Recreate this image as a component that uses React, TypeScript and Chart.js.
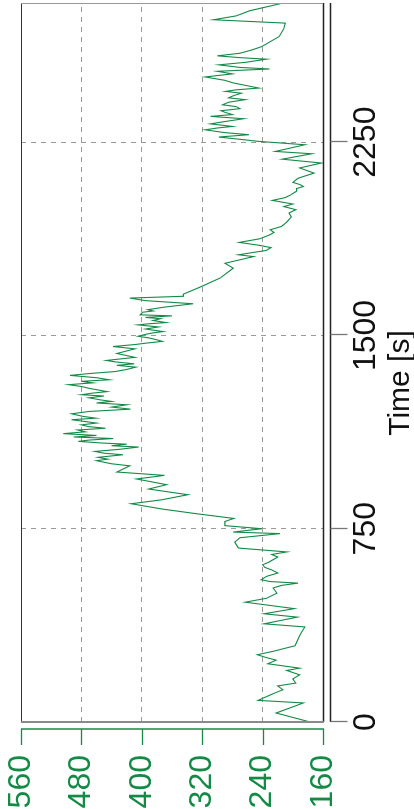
import React, { useEffect, useRef } from 'react';
import { Chart, registerables } from 'chart.js';

Chart.register(...registerables);

// ---- data (time in seconds, value on the green axis) ----
const TIME: number[] = [
  0, 35, 74, 84, 110, 125, 140, 151, 167, 183,
  200, 209, 226, 240, 250, 261, 275, 296, 340, 369,
  381, 407, 420, 440, 465, 480, 500, 520, 530, 539,
  545, 552, 565, 578, 590, 600, 610, 620, 640, 650,
  660, 675, 698, 715, 731, 737, 750, 762, 778, 790,
  808, 826, 847, 862, 882, 904, 921, 943, 957, 970,
  994, 1002, 1014, 1020, 1027, 1037, 1043, 1050, 1058, 1067,
  1072, 1078, 1083, 1089, 1094, 1100, 1106, 1112, 1119, 1126,
  1133, 1140, 1146, 1153, 1160, 1166, 1173, 1179, 1186, 1196,
  1205, 1214, 1222, 1231, 1238, 1244, 1250, 1258, 1265, 1270,
  1276, 1282, 1295, 1302, 1309, 1316, 1322, 1328, 1336, 1345,
  1352, 1360, 1368, 1377, 1384, 1390, 1397, 1403, 1415, 1430,
  1448, 1457, 1465, 1470, 1477, 1483, 1490, 1497, 1505, 1510,
  1515, 1525, 1533, 1541, 1545, 1550, 1558, 1565, 1570, 1576,
  1580, 1590, 1595, 1600, 1610, 1623, 1635, 1645, 1652, 1660,
  1690, 1723, 1761, 1780, 1806, 1813, 1830, 1841, 1850, 1861,
  1875, 1891, 1900, 1910, 1923, 1940, 1960, 1975, 1988, 2000,
  2010, 2024, 2035, 2045, 2060, 2070, 2078, 2085, 2094, 2110,
  2130, 2150, 2169, 2184, 2205, 2214, 2240, 2253, 2270, 2279,
  2287, 2298, 2305, 2311, 2321, 2330, 2341, 2350, 2357, 2365,
  2372, 2380, 2388, 2395, 2405, 2415, 2422, 2430, 2440, 2447,
  2453, 2460, 2470, 2480, 2490, 2503, 2515, 2525, 2534, 2540,
  2550, 2560, 2572, 2578, 2585, 2595, 2608, 2621, 2660, 2690,
  2712, 2725, 2740, 2760, 2787,
];
const VALUE: number[] = [
  177, 222, 186, 246, 226, 213, 220, 196, 200, 191,
  208, 191, 233, 222, 235, 247, 225, 197, 190, 184,
  238, 194, 238, 198, 263, 235, 221, 226, 215, 193,
  230, 242, 235, 220, 228, 237, 240, 232, 220, 228,
  208, 272, 277, 270, 217, 279, 241, 290, 290, 278,
  327, 372, 414, 374, 339, 391, 367, 407, 370, 433,
  416, 440, 460, 445, 458, 425, 450, 462, 430, 404,
  440, 420, 455, 484, 470, 438, 490, 460, 504, 475,
  485, 448, 470, 480, 460, 475, 493, 461, 478, 493,
  470, 415, 440, 420, 460, 440, 455, 470, 450, 480,
  466, 446, 470, 480, 497, 465, 480, 443, 460, 495,
  470, 435, 420, 408, 433, 410, 434, 447, 409, 433,
  409, 438, 408, 395, 373, 380, 390, 405, 394, 385,
  372, 395, 378, 405, 392, 368, 385, 375, 395, 360,
  402, 399, 385, 392, 370, 332, 395, 416, 345, 345,
  321, 296, 279, 290, 252, 272, 235, 229, 245, 271,
  244, 230, 225, 230, 215, 208, 202, 205, 196, 212,
  200, 227, 210, 203, 195, 195, 186, 190, 200, 193,
  172, 191, 162, 214, 175, 223, 184, 245, 298, 258,
  290, 316, 300, 280, 309, 290, 265, 309, 280, 289,
  295, 270, 275, 293, 285, 263, 285, 279, 268, 289,
  275, 245, 262, 279, 290, 316, 280, 300, 231, 270,
  298, 262, 235, 270, 300, 270, 254, 241, 218, 212,
  210, 305, 275, 257, 217,
];
const TIME_TICKS: number[] = [0, 750, 1500, 2250];
const VALUE_TICKS: number[] = [160, 240, 320, 400, 480, 560];
const TIME_MIN = 0;
const TIME_MAX = 2790;
const VALUE_MIN = 160;
const VALUE_MAX = 560;
const TIME_TITLE = 'Time [s]';

// ---- styling ----
const W = 809;
const H = 414;
const GREEN = '#148a47';
const FONT = '"Liberation Sans Narrow", "Arial Narrow", "Liberation Sans", Arial, sans-serif';

const offsetAxes = {
  id: 'offsetAxes',
  afterDraw(chart: any) {
    const { ctx, chartArea: a, scales } = chart;
    const xs = scales.x;
    const ys = scales.y;
    ctx.save();
    const seg = (x1: number, y1: number, x2: number, y2: number, color: string, w: number) => {
      ctx.beginPath();
      ctx.strokeStyle = color;
      ctx.lineWidth = w;
      ctx.moveTo(x1, y1);
      ctx.lineTo(x2, y2);
      ctx.stroke();
    };
    // plot box
    seg(a.left, a.top + 0.5, a.right, a.top + 0.5, '#333', 1.2);
    seg(a.left, a.bottom + 0.5, a.right, a.bottom + 0.5, '#222', 1.5);
    seg(a.left, a.top, a.left, a.bottom + 1, '#8a8a8a', 2);
    seg(a.right - 0.5, a.top, a.right - 0.5, a.bottom, '#9a9a9a', 1);

    // green value axis, offset to the left
    const vx = a.left - 7;
    seg(vx, a.top, vx, a.bottom + 1, GREEN, 1.5);
    ys.ticks.forEach((t: any) => {
      const py = Math.round(ys.getPixelForValue(t.value)) + 0.5;
      seg(vx, py, vx - 16, py, GREEN, 1.3);
    });

    // black time axis, offset below
    const ty = a.bottom + 7.5;
    seg(a.left, ty, a.right, ty, '#222', 1.5);
    xs.ticks.forEach((t: any) => {
      const px = Math.round(xs.getPixelForValue(t.value)) + 0.5;
      seg(px, ty, px, ty + 17, '#777', 1.3);
    });

    // time axis title
    ctx.fillStyle = '#111';
    ctx.font = `30px ${FONT}`;
    ctx.textAlign = 'center';
    ctx.textBaseline = 'alphabetic';
    ctx.fillText(TIME_TITLE, 426, 409);
    ctx.restore();
  },
};

export default function App() {
  const ref = useRef<HTMLCanvasElement | null>(null);

  useEffect(() => {
    if (!ref.current) return;
    const points = TIME.map((t, i) => ({ x: t, y: VALUE[i] }));
    const chart = new Chart(ref.current, {
      type: 'line',
      data: {
        datasets: [
          {
            data: points,
            borderColor: GREEN,
            borderWidth: 1.1,
            pointRadius: 0,
            tension: 0,
            fill: false,
          },
        ],
      },
      options: {
        animation: false,
        responsive: false,
        maintainAspectRatio: false,
        layout: { padding: { top: 21, right: 3, left: 0, bottom: 0 } },
        plugins: { legend: { display: false }, tooltip: { enabled: false }, title: { display: false } },
        scales: {
          x: {
            type: 'linear',
            position: 'bottom',
            min: TIME_MIN,
            max: TIME_MAX,
            afterBuildTicks: (s: any) => {
              s.ticks = TIME_TICKS.map((v) => ({ value: v }));
            },
            afterFit: (s: any) => {
              s.height = 91;
              s.paddingLeft = 0;
              s.paddingRight = 0;
            },
            grid: {
              drawTicks: false,
              color: (c: any) => (c.tick && c.tick.value === TIME_MIN ? 'rgba(0,0,0,0)' : '#9a9a9a'),
              lineWidth: 1,
            },
            border: { display: false, dash: [5, 5] },
            ticks: {
              autoSkip: false,
              maxRotation: 0,
              minRotation: 0,
              padding: 24,
              color: '#111',
              font: { family: FONT, size: 32, lineHeight: 1.2 },
              callback: (v: any) => String(v),
            },
          },
          y: {
            type: 'linear',
            position: 'left',
            min: VALUE_MIN,
            max: VALUE_MAX,
            afterBuildTicks: (s: any) => {
              s.ticks = VALUE_TICKS.map((v) => ({ value: v }));
            },
            afterFit: (s: any) => {
              s.width = 87;
              s.paddingTop = 0;
              s.paddingBottom = 0;
            },
            grid: {
              drawTicks: false,
              color: (c: any) =>
                c.tick && (c.tick.value === VALUE_MIN || c.tick.value === VALUE_MAX) ? 'rgba(0,0,0,0)' : '#9a9a9a',
              lineWidth: 1,
            },
            border: { display: false, dash: [5, 5] },
            ticks: {
              padding: 33,
              color: GREEN,
              font: { family: FONT, size: 32, lineHeight: 1.2 },
              callback: (v: any) => String(v),
            },
          },
        },
      },
      plugins: [offsetAxes],
    });
    return () => chart.destroy();
  }, []);

  return (
    <div style={{ position: 'fixed', left: 0, top: 0, width: 414, height: 809, overflow: 'hidden', background: '#fff' }}>
      <div
        style={{
          position: 'absolute',
          left: 0,
          top: 0,
          width: W,
          height: H,
          transformOrigin: '0 0',
          transform: `translate(0px, ${W}px) rotate(-90deg)`,
        }}
      >
        <canvas ref={ref} width={W} height={H} style={{ display: 'block', width: W, height: H }} />
      </div>
    </div>
  );
}
